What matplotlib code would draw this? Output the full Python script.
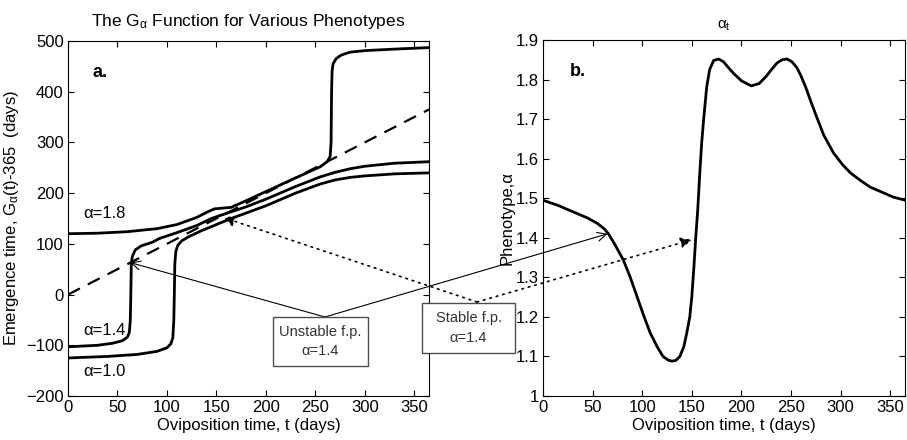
import numpy as np
import matplotlib
matplotlib.use("Agg")
import matplotlib.pyplot as plt
from matplotlib.patches import ConnectionPatch, Rectangle

plt.rcParams['font.family'] = ['Liberation Sans', 'DejaVu Sans']
plt.rcParams['mathtext.fontset'] = 'custom'
plt.rcParams['mathtext.rm'] = 'Liberation Sans'
plt.rcParams['mathtext.it'] = 'Liberation Sans'

# panel a: G_alpha(t)-365 for three phenotypes
t_18 = [0, 30, 60, 90, 110, 130, 140, 148, 165, 180, 200, 230, 255, 262, 265, 266,
        266.5, 267, 268, 271, 276, 285, 300, 330, 365]
g_18 = [120, 121, 124, 130, 138, 152, 162, 169, 172, 185, 203, 230, 252, 262, 272, 300,
        400, 440, 455, 465, 472, 478, 481, 484, 487]

t_14 = [0, 30, 45, 55, 60, 62, 63, 63.5, 64, 65, 68, 74, 85, 93, 110, 130, 145, 160,
        180, 200, 230, 255, 270, 285, 300, 330, 365]
g_14 = [-103, -100, -96, -91, -84, -75, -50, 0, 60, 75, 88, 96, 103, 111, 122, 136, 150, 160,
        173, 188, 213, 232, 241, 248, 253, 259, 262]

t_10 = [0, 40, 70, 90, 100, 104, 106, 107, 107.5, 108, 109, 111, 115, 122, 135, 150, 165,
        200, 230, 255, 270, 285, 300, 330, 365]
g_10 = [-125, -122, -118, -112, -105, -97, -85, -50, 0, 60, 85, 97, 106, 114, 126, 138, 150,
        175, 200, 218, 226, 231, 234, 238, 240]

diag_t = [0, 365]
diag_g = [0, 365]

# panel b: alpha_t
t_alpha = [0, 15, 30, 45, 55, 62, 66, 72, 81, 88, 95, 102, 108, 115, 121, 126, 130, 134,
           138, 142, 145, 148, 150, 152, 154, 156, 158, 160, 162, 165, 168, 172, 177, 182,
           187, 192, 200, 210, 218, 225, 230, 236, 241, 246, 251, 256, 260, 265, 270, 276,
           283, 293, 302, 310, 320, 330, 342, 353, 365]
alpha_t = [1.495, 1.482, 1.466, 1.450, 1.436, 1.422, 1.410, 1.385, 1.344, 1.300, 1.250,
           1.200, 1.160, 1.125, 1.100, 1.091, 1.088, 1.090, 1.100, 1.125, 1.160, 1.200,
           1.250, 1.320, 1.400, 1.470, 1.560, 1.640, 1.700, 1.780, 1.825, 1.848, 1.852,
           1.845, 1.830, 1.816, 1.797, 1.784, 1.790, 1.808, 1.824, 1.842, 1.850, 1.852,
           1.845, 1.830, 1.810, 1.780, 1.745, 1.705, 1.660, 1.614, 1.585, 1.564, 1.545,
           1.528, 1.515, 1.503, 1.495]

# fixed points (t, value)
unstable_fp = (63, 63)
stable_fp = (157, 152)
unstable_fp_b = (65, 1.41)
stable_fp_b = (150, 1.395)

W, H = 907, 440
fig = plt.figure(figsize=(W / 100, H / 100), dpi=100)
ax1 = fig.add_axes([68 / W, 1 - 396 / H, 361 / W, 355 / H])
ax2 = fig.add_axes([543 / W, 1 - 396 / H, 362 / W, 356 / H])

lw = 2.0
ax1.plot(t_18, g_18, color='black', lw=lw)
ax1.plot(t_14, g_14, color='black', lw=lw)
ax1.plot(t_10, g_10, color='black', lw=lw)
ax1.plot(diag_t, diag_g, color='black', lw=1.6, dashes=(6, 4))

ax1.set_xlim(0, 365)
ax1.set_ylim(-200, 500)
ax1.set_xticks(np.arange(0, 351, 50))
ax1.set_yticks(np.arange(-200, 501, 100))
ax1.set_title(r"The G$_{\alpha}$ Function for Various Phenotypes", fontsize=12.5, pad=11)
ax1.set_xlabel("Oviposition time, t (days)", fontsize=12, labelpad=2)
ax1.set_ylabel(r"Emergence time, G$_{\alpha}$(t)-365  (days)", fontsize=12, labelpad=4)
ax1.text(25, 437, "a.", fontsize=13, fontweight='bold', va='center')
ax1.text(15, 160, "α=1.8", fontsize=12, va='center')
ax1.text(15, -70, "α=1.4", fontsize=12, va='center')
ax1.text(15, -151, "α=1.0", fontsize=12, va='center')

ax2.plot(t_alpha, alpha_t, color='black', lw=lw)
ax2.set_xlim(0, 365)
ax2.set_ylim(1, 1.9)
ax2.set_xticks(np.arange(0, 351, 50))
ax2.set_yticks(np.arange(1, 1.91, 0.1))
ax2.set_yticklabels(["1", "1.1", "1.2", "1.3", "1.4", "1.5", "1.6", "1.7", "1.8", "1.9"])
ax2.set_title(r"$\alpha_t$", fontsize=11, pad=8)
ax2.set_xlabel("Oviposition time, t (days)", fontsize=12, labelpad=2)
ax2.set_ylabel("Phenotype,α", fontsize=12, labelpad=1)
ax2.text(27, 1.82, "b.", fontsize=13, fontweight='bold', va='center')

for ax in (ax1, ax2):
    ax.tick_params(direction='in', top=True, right=True, length=4, labelsize=12, pad=3)
    for s in ax.spines.values():
        s.set_linewidth(0.8)

# annotation boxes and arrows (figure pixel positions)
def fpix(x, y):
    return (x / W, 1 - y / H)

vert_u = fpix(325, 317)
vert_s = fpix(477, 302)
for xyB, axB in ((unstable_fp, ax1), (unstable_fp_b, ax2)):
    con = ConnectionPatch(xyA=vert_u, coordsA='figure fraction', xyB=xyB, coordsB='data',
                          axesB=axB, arrowstyle='->', lw=0.8, color='black',
                          mutation_scale=16)
    fig.add_artist(con)
for xyB, axB in ((stable_fp, ax1), (stable_fp_b, ax2)):
    con = ConnectionPatch(xyA=vert_s, coordsA='figure fraction', xyB=xyB, coordsB='data',
                          axesB=axB, arrowstyle='-|>', lw=1.2, color='black',
                          linestyle=(0, (1, 3)), mutation_scale=16)
    fig.add_artist(con)

boxes = [((273, 317, 368, 366), "Unstable f.p.\nα=1.4"),
         ((422, 303, 515, 353), "Stable f.p.\nα=1.4")]
for (x0, y0, x1, y1), label in boxes:
    fig.add_artist(Rectangle(fpix(x0, y1), (x1 - x0) / W, (y1 - y0) / H,
                             transform=fig.transFigure, facecolor='white',
                             edgecolor='0.3', lw=1, zorder=3))
    cx, cy = fpix((x0 + x1) / 2, (y0 + y1) / 2)
    fig.text(cx, cy, label, ha='center', va='center', fontsize=10.5,
             linespacing=1.5, color='0.2', zorder=4)

fig.savefig("out.png", dpi=100)
